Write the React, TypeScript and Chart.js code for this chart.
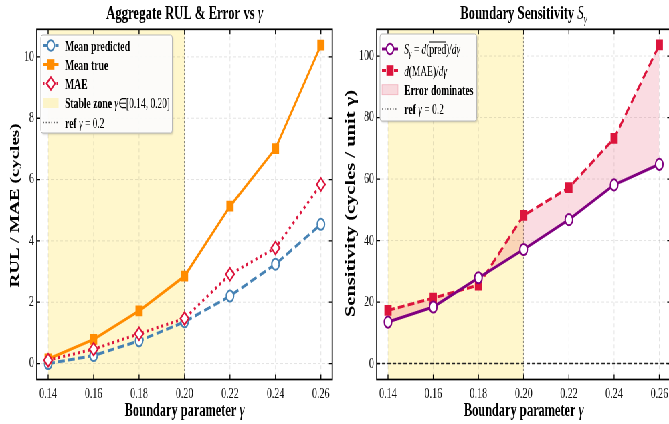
import React, { useEffect, useRef } from 'react';
import { Chart, registerables } from 'chart.js';

Chart.register(...registerables);

// ---------------- data ----------------
const gammaValues = [0.14, 0.16, 0.18, 0.2, 0.22, 0.24, 0.26];
const meanPredicted = [0.0, 0.26, 0.74, 1.36, 2.2, 3.24, 4.54];
const meanTrue = [0.15, 0.79, 1.72, 2.85, 5.13, 7.01, 10.38];
const maeValues = [0.11, 0.47, 0.97, 1.47, 2.91, 3.77, 5.84];
const sensitivityPred = [13.5, 18.4, 27.9, 37.1, 46.8, 58.1, 64.8];
const sensitivityMae = [17.3, 21.3, 25.5, 48.2, 57.2, 73.2, 103.6];
const xTickValues = [0.14, 0.16, 0.18, 0.2, 0.22, 0.24, 0.26];
const leftYTickValues = [0, 2, 4, 6, 8, 10];
const rightYTickValues = [0, 20, 40, 60, 80, 100];
const stableZone = [0.14, 0.2];
const refGamma = 0.2;
const leftLimits = [0.135, 0.265, -0.52, 10.9];
const rightLimits = [0.135, 0.265, -5.18, 108.7];

// ---------------- style ----------------
const SQUISH = 0.669;
const SERIF = '"Liberation Serif", "Times New Roman", serif';
const B = (s: number) => `bold ${s}px ${SERIF}`;
const R = (s: number) => `${s}px ${SERIF}`;
const I = (s: number) => `italic ${s}px ${SERIF}`;
const STEEL = '#4682B4';
const ORANGE = '#FF8C00';
const CRIMSON = '#DC143C';
const PURPLE = '#800080';
const BAND = 'rgba(255, 215, 0, 0.2)';
const PINK = 'rgba(220, 20, 60, 0.15)';
const REFCOL = 'rgba(90, 90, 90, 0.9)';

type Seg = { t: string; f: string; dy?: number; over?: boolean };

function segWidth(ctx: CanvasRenderingContext2D, segs: Seg[]) {
  let w = 0;
  for (const s of segs) {
    ctx.font = s.f;
    w += ctx.measureText(s.t).width;
  }
  return w;
}

function drawRich(ctx: CanvasRenderingContext2D, x: number, y: number, segs: Seg[], align: string) {
  const w = segWidth(ctx, segs);
  let cx = align === 'center' ? x - w / 2 : x;
  ctx.textAlign = 'left';
  ctx.textBaseline = 'alphabetic';
  ctx.fillStyle = '#000';
  for (const s of segs) {
    ctx.font = s.f;
    const m = ctx.measureText(s.t);
    ctx.fillText(s.t, cx, y + (s.dy || 0));
    if (s.over) {
      const oy = y + (s.dy || 0) - m.actualBoundingBoxAscent - 2;
      ctx.save();
      ctx.strokeStyle = '#000';
      ctx.lineWidth = 1;
      ctx.setLineDash([]);
      ctx.beginPath();
      ctx.moveTo(cx, oy);
      ctx.lineTo(cx + m.width, oy);
      ctx.stroke();
      ctx.restore();
    }
    cx += m.width;
  }
}

function drawMarker(ctx: CanvasRenderingContext2D, style: string, x: number, y: number, color: string) {
  ctx.save();
  ctx.setLineDash([]);
  ctx.lineWidth = 2;
  ctx.strokeStyle = color;
  if (style === 'circle') {
    ctx.beginPath();
    ctx.arc(x, y, 5.2, 0, Math.PI * 2);
    ctx.fillStyle = '#fff';
    ctx.fill();
    ctx.stroke();
  } else if (style === 'square') {
    ctx.fillStyle = color;
    ctx.fillRect(x - 5.3, y - 5.3, 10.6, 10.6);
  } else if (style === 'diamond') {
    ctx.beginPath();
    ctx.moveTo(x, y - 6.3);
    ctx.lineTo(x + 6.3, y);
    ctx.lineTo(x, y + 6.3);
    ctx.lineTo(x - 6.3, y);
    ctx.closePath();
    ctx.fillStyle = '#fff';
    ctx.fill();
    ctx.stroke();
  }
  ctx.restore();
}

function roundRect(ctx: CanvasRenderingContext2D, x0: number, y0: number, x1: number, y1: number, r: number) {
  ctx.beginPath();
  ctx.moveTo(x0 + r, y0);
  ctx.lineTo(x1 - r, y0);
  ctx.quadraticCurveTo(x1, y0, x1, y0 + r);
  ctx.lineTo(x1, y1 - r);
  ctx.quadraticCurveTo(x1, y1, x1 - r, y1);
  ctx.lineTo(x0 + r, y1);
  ctx.quadraticCurveTo(x0, y1, x0, y1 - r);
  ctx.lineTo(x0, y0 + r);
  ctx.quadraticCurveTo(x0, y0, x0 + r, y0);
  ctx.closePath();
}

const decoPlugin = {
  id: 'deco',
  beforeDatasetsDraw(chart: any, _args: any, opts: any) {
    const { ctx, chartArea: a, scales } = chart;
    const x = scales.x;
    const y = scales.y;
    ctx.save();
    const b0 = x.getPixelForValue(stableZone[0]);
    const b1 = x.getPixelForValue(stableZone[1]);
    ctx.fillStyle = BAND;
    ctx.fillRect(b0, a.top, b1 - b0, a.bottom - a.top);
    ctx.strokeStyle = 'rgba(0,0,0,0.13)';
    ctx.lineWidth = 0.9;
    ctx.setLineDash([4, 3]);
    for (const v of xTickValues) {
      const px = x.getPixelForValue(v);
      ctx.beginPath();
      ctx.moveTo(px, a.top);
      ctx.lineTo(px, a.bottom);
      ctx.stroke();
    }
    for (const v of opts.yTicks) {
      const py = y.getPixelForValue(v);
      ctx.beginPath();
      ctx.moveTo(a.left, py);
      ctx.lineTo(a.right, py);
      ctx.stroke();
    }
    if (opts.zeroLine) {
      const py = y.getPixelForValue(0);
      ctx.strokeStyle = '#222';
      ctx.lineWidth = 1.4;
      ctx.setLineDash([5, 3]);
      ctx.beginPath();
      ctx.moveTo(a.left, py);
      ctx.lineTo(a.right, py);
      ctx.stroke();
    }
    const rx = x.getPixelForValue(refGamma);
    ctx.strokeStyle = REFCOL;
    ctx.lineWidth = 1.7;
    ctx.setLineDash([1.5, 2.5]);
    ctx.beginPath();
    ctx.moveTo(rx, a.top);
    ctx.lineTo(rx, a.bottom);
    ctx.stroke();
    ctx.restore();
  },
  afterDatasetsDraw(chart: any, _args: any, opts: any) {
    const { ctx, chartArea: a, scales } = chart;
    const x = scales.x;
    const y = scales.y;
    ctx.save();
    ctx.setLineDash([]);
    ctx.strokeStyle = '#000';
    ctx.lineWidth = 1.7;
    ctx.strokeRect(a.left, a.top, a.right - a.left, a.bottom - a.top);
    ctx.lineWidth = 1.3;
    const tl = 5;
    for (const v of xTickValues) {
      const px = x.getPixelForValue(v);
      ctx.beginPath();
      ctx.moveTo(px, a.bottom);
      ctx.lineTo(px, a.bottom - tl);
      ctx.moveTo(px, a.top);
      ctx.lineTo(px, a.top + tl);
      ctx.stroke();
    }
    for (const v of opts.yTicks) {
      const py = y.getPixelForValue(v);
      ctx.beginPath();
      ctx.moveTo(a.left, py);
      ctx.lineTo(a.left + tl, py);
      ctx.moveTo(a.right, py);
      ctx.lineTo(a.right - tl, py);
      ctx.stroke();
    }
    const lg = opts.legend;
    ctx.save();
    ctx.shadowColor = 'rgba(0,0,0,0.18)';
    ctx.shadowOffsetX = 1.5;
    ctx.shadowOffsetY = 1.5;
    ctx.shadowBlur = 2;
    roundRect(ctx, lg.box[0], lg.box[1], lg.box[2], lg.box[3], 3);
    ctx.fillStyle = 'rgba(255,255,255,0.93)';
    ctx.fill();
    ctx.restore();
    roundRect(ctx, lg.box[0], lg.box[1], lg.box[2], lg.box[3], 3);
    ctx.strokeStyle = '#b8b8b8';
    ctx.lineWidth = 1;
    ctx.stroke();
    lg.rows.forEach((row: any, i: number) => {
      const cy = lg.rowY[i];
      const h0 = lg.handle[0];
      const h1 = lg.handle[1];
      if (row.kind === 'patch') {
        ctx.fillStyle = row.color;
        ctx.fillRect(h0, cy - 5, h1 - h0, 10);
        if (row.edge) {
          ctx.strokeStyle = row.edge;
          ctx.lineWidth = 0.8;
          ctx.strokeRect(h0, cy - 5, h1 - h0, 10);
        }
      } else {
        ctx.strokeStyle = row.color;
        ctx.lineWidth = row.lw || 3;
        ctx.setLineDash(row.dash || []);
        ctx.beginPath();
        ctx.moveTo(h0, cy);
        ctx.lineTo(h1, cy);
        ctx.stroke();
        ctx.setLineDash([]);
        if (row.marker) drawMarker(ctx, row.marker, (h0 + h1) / 2, cy, row.color);
      }
      drawRich(ctx, lg.textX, cy + 5, row.segs, 'left');
    });
    const cxp = (a.left + a.right) / 2;
    drawRich(ctx, cxp, 18.6, opts.title, 'center');
    drawRich(ctx, cxp, 416, opts.xLabel, 'center');
    ctx.save();
    ctx.translate(opts.yLabelX, opts.yLabelY);
    ctx.rotate(-Math.PI / 2);
    drawRich(ctx, 0, 0, opts.yLabel, 'center');
    ctx.restore();
    ctx.restore();
  },
};

const pts = (ys: number[]) => gammaValues.map((g, i) => ({ x: g, y: ys[i] }));

function scalesFor(lim: number[], yTicks: number[], yWidth: number) {
  return {
    x: {
      type: 'linear',
      min: lim[0],
      max: lim[1],
      afterBuildTicks: (s: any) => {
        s.ticks = xTickValues.map((v) => ({ value: v }));
      },
      afterFit: (s: any) => {
        s.height = 44.5;
      },
      grid: { display: false, drawTicks: false },
      border: { display: false },
      ticks: {
        callback: (v: any) => Number(v).toFixed(2),
        font: { family: SERIF, size: 15 },
        color: '#111',
        padding: 6,
        maxRotation: 0,
        autoSkip: false,
      },
    },
    y: {
      type: 'linear',
      min: lim[2],
      max: lim[3],
      afterBuildTicks: (s: any) => {
        s.ticks = yTicks.map((v) => ({ value: v }));
      },
      afterFit: (s: any) => {
        s.width = yWidth;
      },
      grid: { display: false, drawTicks: false },
      border: { display: false },
      ticks: {
        callback: (v: any) => String(v),
        font: { family: SERIF, size: 15 },
        color: '#111',
        padding: 4,
        autoSkip: false,
      },
    },
  };
}

function leftConfig(): any {
  return {
    type: 'line',
    data: {
      datasets: [
        {
          label: 'Mean predicted',
          data: pts(meanPredicted),
          borderColor: STEEL,
          borderWidth: 3,
          borderDash: [10, 5],
          pointStyle: 'circle',
          pointRadius: 5.5,
          pointBorderWidth: 2,
          pointBackgroundColor: '#fff',
          pointBorderColor: STEEL,
          fill: false,
          order: 3,
        },
        {
          label: 'Mean true',
          data: pts(meanTrue),
          borderColor: ORANGE,
          borderWidth: 3,
          pointStyle: 'rect',
          pointRadius: 7.6,
          pointBorderWidth: 0,
          pointBackgroundColor: ORANGE,
          pointBorderColor: ORANGE,
          fill: false,
          order: 2,
        },
        {
          label: 'MAE',
          data: pts(maeValues),
          borderColor: CRIMSON,
          borderWidth: 3,
          borderDash: [3, 4.5],
          pointStyle: 'rectRot',
          pointRadius: 6.3,
          pointBorderWidth: 2,
          pointBackgroundColor: '#fff',
          pointBorderColor: CRIMSON,
          fill: false,
          order: 1,
        },
      ],
    },
    options: {
      responsive: false,
      animation: false,
      devicePixelRatio: 1,
      layout: { padding: { top: 29.3, right: 6, bottom: 0, left: 0 } },
      scales: scalesFor(leftLimits, leftYTickValues, 55),
      plugins: {
        legend: { display: false },
        tooltip: { enabled: false },
        deco: {
          yTicks: leftYTickValues,
          zeroLine: false,
          title: [
            { t: 'Aggregate RUL & Error vs ', f: B(19) },
            { t: 'γ', f: I(19) },
          ],
          xLabel: [
            { t: 'Boundary parameter ', f: B(18.5) },
            { t: 'γ', f: I(18.5) },
          ],
          yLabel: [{ t: 'RUL / MAE (cycles)', f: B(19) }],
          yLabelX: 28.4,
          yLabelY: 205.5,
          legend: {
            box: [61, 35, 257.5, 133],
            rowY: [45.5, 64.5, 83.5, 103, 122.5],
            handle: [64.5, 87.5],
            textX: 97,
            rows: [
              { kind: 'line', color: STEEL, dash: [6, 3], marker: 'circle', segs: [{ t: 'Mean predicted', f: B(14.5) }] },
              { kind: 'line', color: ORANGE, dash: [], marker: 'square', segs: [{ t: 'Mean true', f: B(14.5) }] },
              { kind: 'line', color: CRIMSON, dash: [2, 3], marker: 'diamond', segs: [{ t: 'MAE', f: B(14.5) }] },
              {
                kind: 'patch',
                color: BAND,
                segs: [
                  { t: 'Stable zone ', f: B(14.5) },
                  { t: 'γ', f: I(14) },
                  { t: '∈[0.14, 0.20]', f: R(14) },
                ],
              },
              {
                kind: 'line',
                color: REFCOL,
                lw: 1.3,
                dash: [1.5, 2.5],
                segs: [
                  { t: 'ref ', f: B(14.5) },
                  { t: 'γ', f: I(14) },
                  { t: ' = 0.2', f: R(14) },
                ],
              },
            ],
          },
        },
      },
    },
    plugins: [decoPlugin],
  };
}

function rightConfig(): any {
  return {
    type: 'line',
    data: {
      datasets: [
        {
          label: 'S_gamma',
          data: pts(sensitivityPred),
          borderColor: PURPLE,
          borderWidth: 3,
          pointStyle: 'circle',
          pointRadius: 5.6,
          pointBorderWidth: 2,
          pointBackgroundColor: '#fff',
          pointBorderColor: PURPLE,
          fill: false,
          order: 1,
        },
        {
          label: 'd(MAE)/dgamma',
          data: pts(sensitivityMae),
          borderColor: CRIMSON,
          borderWidth: 3,
          borderDash: [10, 5],
          pointStyle: 'rect',
          pointRadius: 7.6,
          pointBorderWidth: 0,
          pointBackgroundColor: CRIMSON,
          pointBorderColor: CRIMSON,
          fill: { target: 0, above: PINK, below: 'rgba(0,0,0,0)' },
          order: 2,
        },
      ],
    },
    options: {
      responsive: false,
      animation: false,
      devicePixelRatio: 1,
      layout: { padding: { top: 29.3, right: 3.9, bottom: 0, left: 0 } },
      scales: scalesFor(rightLimits, rightYTickValues, 58.1),
      plugins: {
        legend: { display: false },
        tooltip: { enabled: false },
        filler: { propagate: false },
        deco: {
          yTicks: rightYTickValues,
          zeroLine: true,
          title: [
            { t: 'Boundary Sensitivity ', f: B(19) },
            { t: 'S', f: I(19) },
            { t: 'γ', f: I(13), dy: 4 },
          ],
          xLabel: [
            { t: 'Boundary parameter ', f: B(18.5) },
            { t: 'γ', f: I(18.5) },
          ],
          yLabel: [{ t: 'Sensitivity (cycles / unit γ)', f: B(20.5) }],
          yLabelX: 24.5,
          yLabelY: 203.5,
          legend: {
            box: [63, 34, 207.5, 121],
            rowY: [49, 70.5, 89.7, 109],
            handle: [66, 90],
            textX: 99.3,
            rows: [
              {
                kind: 'line',
                color: PURPLE,
                dash: [],
                marker: 'circle',
                segs: [
                  { t: 'S', f: I(14) },
                  { t: 'γ', f: I(10), dy: 3 },
                  { t: ' = ', f: R(14) },
                  { t: 'd', f: I(14) },
                  { t: '(', f: R(14) },
                  { t: 'pred', f: R(14), over: true },
                  { t: ')/', f: R(14) },
                  { t: 'dγ', f: I(14) },
                ],
              },
              {
                kind: 'line',
                color: CRIMSON,
                dash: [6, 3],
                marker: 'square',
                segs: [
                  { t: 'd', f: I(14) },
                  { t: '(MAE)/', f: R(14) },
                  { t: 'dγ', f: I(14) },
                ],
              },
              { kind: 'patch', color: PINK, edge: 'rgba(220,20,60,0.25)', segs: [{ t: 'Error dominates', f: B(14.5) }] },
              {
                kind: 'line',
                color: REFCOL,
                lw: 1.3,
                dash: [1.5, 2.5],
                segs: [
                  { t: 'ref ', f: B(14.5) },
                  { t: 'γ', f: I(14) },
                  { t: ' = 0.2', f: R(14) },
                ],
              },
            ],
          },
        },
      },
    },
    plugins: [decoPlugin],
  };
}

function ChartCanvas({ make, left }: { make: () => any; left: number }) {
  const ref = useRef<HTMLCanvasElement | null>(null);
  useEffect(() => {
    const chart = new Chart(ref.current as HTMLCanvasElement, make());
    return () => chart.destroy();
  }, []);
  return (
    <canvas
      ref={ref}
      width={505}
      height={424}
      style={{ position: 'absolute', left, top: 0, width: 505, height: 424 }}
    />
  );
}

export default function App() {
  return (
    <div
      style={{
        position: 'absolute',
        left: 0,
        top: 0,
        width: 669,
        height: 424,
        overflow: 'hidden',
        background: '#fff',
      }}
    >
      <div
        style={{
          position: 'absolute',
          left: 0,
          top: 0,
          width: 1010,
          height: 424,
          transform: `scaleX(${SQUISH})`,
          transformOrigin: '0 0',
        }}
      >
        <ChartCanvas make={leftConfig} left={0} />
        <ChartCanvas make={rightConfig} left={505} />
      </div>
    </div>
  );
}
